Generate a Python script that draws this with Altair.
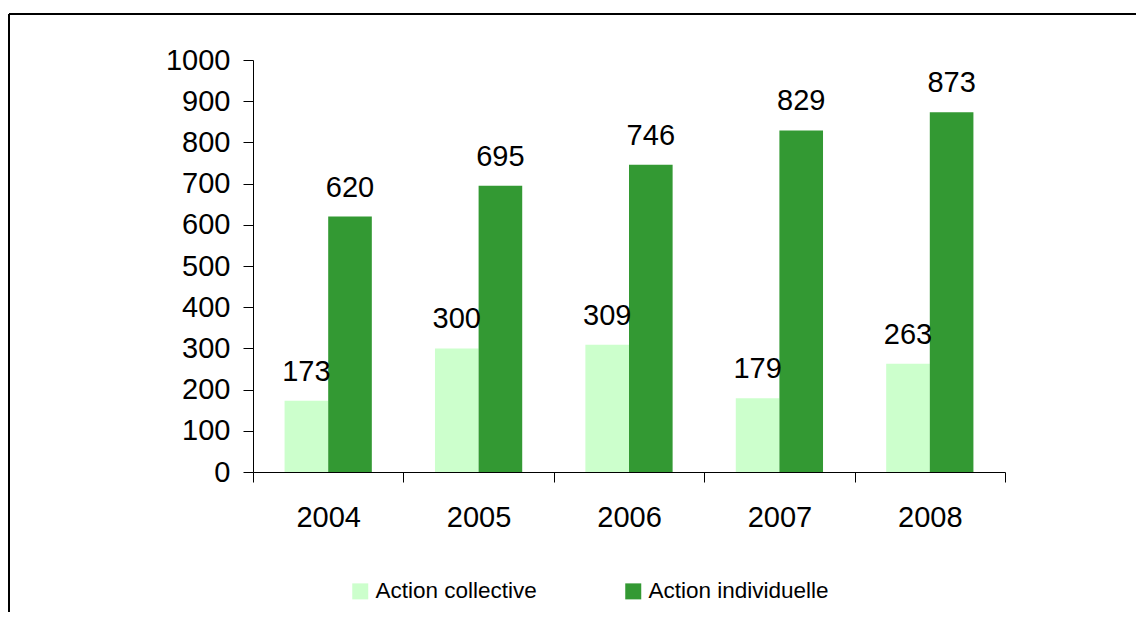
import altair as alt
import pandas as pd

years = ["2004", "2005", "2006", "2007", "2008"]
collective = [173, 300, 309, 179, 263]
individuelle = [620, 695, 746, 829, 873]
series = ["Action collective", "Action individuelle"]
colors = ["#CCFFCC", "#339933"]
y_ticks = [0, 100, 200, 300, 400, 500, 600, 700, 800, 900, 1000]

rows = []
for i, y in enumerate(years):
    rows.append({"year": y, "serie": series[0], "value": collective[i]})
    rows.append({"year": y, "serie": series[1], "value": individuelle[i]})
df = pd.DataFrame(rows)

FONT = "Liberation Sans"
W, H = 752, 412

x_enc = alt.X(
    "year:N",
    sort=years,
    scale=alt.Scale(paddingInner=0, paddingOuter=0),
    axis=alt.Axis(
        title=None, labelAngle=0, labelFontSize=29, labelFont=FONT, labelColor="black",
        tickBand="extent", tickSize=10, tickColor="black", domainColor="black",
        labelPadding=21, grid=False,
    ),
)
xo_enc = alt.XOffset(
    "serie:N", sort=series,
    scale=alt.Scale(domain=series, paddingInner=0, paddingOuter=0.724),
)
y_enc = alt.Y(
    "value:Q",
    scale=alt.Scale(domain=[0, 1000], nice=False),
    axis=alt.Axis(
        title=None, values=y_ticks, format="d", labelFontSize=29, labelFont=FONT,
        labelColor="black", tickSize=10, tickColor="black", domainColor="black",
        labelPadding=13, grid=False,
    ),
)

base = alt.Chart(df)

bars = base.mark_bar(strokeWidth=0).encode(
    x=x_enc,
    xOffset=xo_enc,
    y=y_enc,
    color=alt.Color(
        "serie:N",
        scale=alt.Scale(domain=series, range=colors),
        legend=alt.Legend(
            title=None, orient="none", legendX=96, legendY=520, direction="horizontal",
            symbolType="square", symbolSize=256, symbolStrokeWidth=0, symbolOpacity=1,
            labelFontSize=22.5, labelFont=FONT, labelColor="black", labelOffset=4,
            labelLimit=400, columnPadding=85, padding=0,
        ),
    ),
)

labels = base.mark_text(
    baseline="alphabetic", dy=-20, fontSize=29, font=FONT, color="black"
).encode(
    x=alt.X("year:N", sort=years),
    xOffset=alt.XOffset("serie:N", sort=series),
    y=alt.Y("value:Q"),
    text=alt.Text("value:Q"),
)

frame_df = pd.DataFrame({"k": [0]})
top_line = alt.Chart(frame_df).mark_rule(color="black", strokeWidth=2).encode(
    x=alt.value(-244), x2=alt.value(900), y=alt.value(-46)
)
left_line = alt.Chart(frame_df).mark_rule(color="black", strokeWidth=2).encode(
    x=alt.value(-244), y=alt.value(-46), y2=alt.value(600)
)

chart = alt.layer(bars, labels, top_line, left_line).properties(
    width=W, height=H,
    autosize=alt.AutoSizeParams(type="none"),
    padding={"left": 245, "top": 52, "right": 131, "bottom": 140},
).configure(background="white").configure_view(stroke=None)

chart.save("out.html", embed_options={"renderer": "svg", "actions": False})
